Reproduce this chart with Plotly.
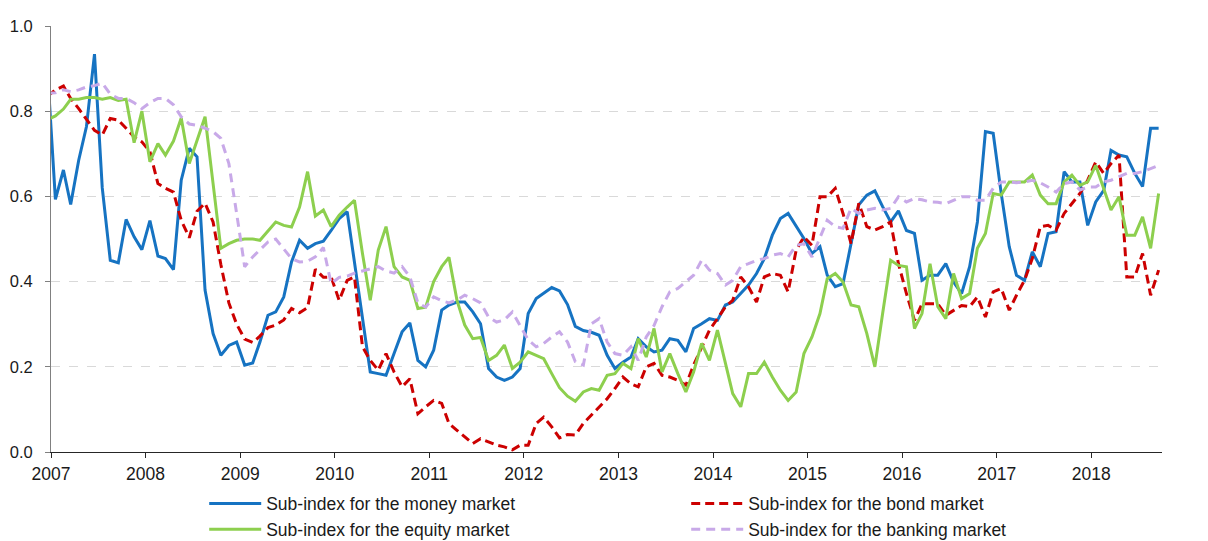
import pandas as pd
import plotly.graph_objects as go

# monthly observations, Dec 2006 .. Sep 2018 (plotted mid-month)
months = pd.date_range("2006-12-01", periods=142, freq="MS") + pd.Timedelta(days=17)

money_market = [
    0.90,
    0.593, 0.662, 0.581, 0.685, 0.764, 0.934, 0.62, 0.45, 0.444, 0.546, 0.505, 0.475,
    0.543, 0.46, 0.454, 0.428, 0.638, 0.713, 0.693, 0.38, 0.278, 0.227, 0.25, 0.258,
    0.204, 0.209, 0.258, 0.321, 0.329, 0.364, 0.446, 0.497, 0.478, 0.489, 0.495, 0.52,
    0.548, 0.564, 0.448, 0.31, 0.188, 0.184, 0.18, 0.231, 0.282, 0.303, 0.215, 0.2,
    0.239, 0.333, 0.345, 0.352, 0.352, 0.329, 0.301, 0.196, 0.176, 0.168, 0.176, 0.196,
    0.325, 0.36, 0.372, 0.386, 0.378, 0.346, 0.295, 0.285, 0.281, 0.274, 0.227, 0.196,
    0.211, 0.223, 0.266, 0.247, 0.235, 0.239, 0.266, 0.262, 0.235, 0.29, 0.301, 0.313,
    0.309, 0.345, 0.352, 0.372, 0.392, 0.419, 0.454, 0.509, 0.548, 0.56, 0.529, 0.501,
    0.466, 0.482, 0.415, 0.388, 0.395, 0.489, 0.58, 0.603, 0.613, 0.576, 0.54, 0.566,
    0.52, 0.513, 0.403, 0.415, 0.415, 0.442, 0.399, 0.372, 0.435, 0.54, 0.752, 0.748,
    0.607, 0.482, 0.415, 0.403, 0.47, 0.435, 0.513, 0.517, 0.658, 0.634, 0.634, 0.532,
    0.587, 0.614, 0.708, 0.697, 0.693, 0.654, 0.623, 0.76, 0.76,
]

bond_market = [
    0.835,
    0.85, 0.859, 0.83, 0.806, 0.78, 0.755, 0.744, 0.783, 0.779, 0.76, 0.74, 0.728,
    0.705, 0.63, 0.619, 0.61, 0.544, 0.503, 0.565, 0.584, 0.54, 0.44, 0.35, 0.30,
    0.265, 0.257, 0.272, 0.292, 0.298, 0.31, 0.337, 0.327, 0.339, 0.429, 0.41, 0.411,
    0.356, 0.403, 0.411, 0.247, 0.215, 0.192, 0.231, 0.188, 0.153, 0.172, 0.09, 0.106,
    0.121, 0.114, 0.067, 0.051, 0.035, 0.02, 0.031, 0.023, 0.016, 0.012, 0.005, 0.016,
    0.016, 0.067, 0.082, 0.059, 0.033, 0.041, 0.04, 0.067, 0.086, 0.106, 0.125, 0.149,
    0.176, 0.16, 0.153, 0.2, 0.208, 0.18, 0.176, 0.168, 0.157, 0.204, 0.247, 0.286,
    0.313, 0.341, 0.356, 0.411, 0.388, 0.352, 0.411, 0.419, 0.415, 0.376, 0.474, 0.505,
    0.485, 0.599, 0.599, 0.619, 0.56, 0.489, 0.584, 0.529, 0.521, 0.529, 0.54, 0.442,
    0.372, 0.309, 0.348, 0.348, 0.348, 0.321, 0.333, 0.344, 0.341, 0.364, 0.317, 0.376,
    0.384, 0.333, 0.368, 0.403, 0.454, 0.529, 0.532, 0.521, 0.56, 0.584, 0.607, 0.638,
    0.681, 0.654, 0.677, 0.697, 0.411, 0.411, 0.466, 0.368, 0.427,
]

equity_market = [
    0.78,
    0.789, 0.805, 0.828, 0.828, 0.832, 0.832, 0.828, 0.832, 0.825, 0.828, 0.726, 0.80,
    0.681, 0.724, 0.697, 0.73, 0.784, 0.677, 0.732, 0.787, 0.63, 0.478, 0.489, 0.497,
    0.50, 0.50, 0.497, 0.52, 0.54, 0.532, 0.528, 0.575, 0.658, 0.554, 0.568, 0.529,
    0.556, 0.575, 0.591, 0.466, 0.356, 0.474, 0.529, 0.435, 0.411, 0.403, 0.337, 0.34,
    0.40, 0.435, 0.457, 0.356, 0.298, 0.266, 0.269, 0.215, 0.227, 0.251, 0.196, 0.211,
    0.235, 0.227, 0.219, 0.184, 0.151, 0.131, 0.119, 0.141, 0.149, 0.145, 0.18, 0.184,
    0.208, 0.196, 0.266, 0.223, 0.29, 0.188, 0.231, 0.184, 0.141, 0.188, 0.255, 0.215,
    0.286, 0.208, 0.137, 0.106, 0.184, 0.184, 0.211, 0.176, 0.145, 0.121, 0.141, 0.231,
    0.27, 0.325, 0.407, 0.419, 0.399, 0.345, 0.341, 0.278, 0.20, 0.325, 0.45, 0.438,
    0.435, 0.29, 0.325, 0.442, 0.341, 0.313, 0.419, 0.36, 0.372, 0.478, 0.513, 0.607,
    0.603, 0.634, 0.634, 0.634, 0.65, 0.603, 0.583, 0.583, 0.634, 0.65, 0.626, 0.634,
    0.673, 0.619, 0.568, 0.599, 0.509, 0.509, 0.552, 0.478, 0.607,
]

banking_market = [
    0.842,
    0.843, 0.85, 0.846, 0.85, 0.857, 0.86, 0.866, 0.84, 0.83, 0.83, 0.82, 0.806,
    0.82, 0.83, 0.83, 0.815, 0.787, 0.77, 0.767, 0.76, 0.752, 0.736, 0.677, 0.56,
    0.435, 0.458, 0.474, 0.493, 0.50, 0.478, 0.454, 0.446, 0.448, 0.458, 0.48, 0.395,
    0.41, 0.413, 0.42, 0.425, 0.43, 0.435, 0.425, 0.42, 0.435, 0.411, 0.35, 0.34,
    0.364, 0.355, 0.35, 0.357, 0.368, 0.36, 0.35, 0.317, 0.305, 0.31, 0.329, 0.298,
    0.263, 0.247, 0.255, 0.27, 0.282, 0.258, 0.212, 0.204, 0.301, 0.313, 0.258, 0.231,
    0.227, 0.247, 0.215, 0.27, 0.297, 0.341, 0.376, 0.384, 0.399, 0.415, 0.45, 0.427,
    0.419, 0.392, 0.403, 0.435, 0.442, 0.45, 0.454, 0.462, 0.466, 0.458, 0.485, 0.489,
    0.458, 0.505, 0.544, 0.529, 0.525, 0.572, 0.56, 0.568, 0.572, 0.568, 0.572, 0.599,
    0.587, 0.595, 0.592, 0.587, 0.586, 0.583, 0.591, 0.599, 0.599, 0.591, 0.591, 0.619,
    0.634, 0.634, 0.632, 0.634, 0.638, 0.632, 0.622, 0.61, 0.63, 0.634, 0.615, 0.622,
    0.622, 0.634, 0.638, 0.646, 0.654, 0.654, 0.658, 0.665, 0.673,
]

year_ticks = [str(y) for y in range(2007, 2019)]

fig = go.Figure()

fig.add_trace(go.Scatter(x=months, y=money_market, mode="lines",
                         name="Sub-index for the money market",
                         line=dict(color="#1673c2", width=3)))
fig.add_trace(go.Scatter(x=months, y=bond_market, mode="lines",
                         name="Sub-index for the bond market",
                         line=dict(color="#cc0000", width=3, dash="9px,5px")))
fig.add_trace(go.Scatter(x=months, y=equity_market, mode="lines",
                         name="Sub-index for the equity market",
                         line=dict(color="#8dcf4e", width=3)))
fig.add_trace(go.Scatter(x=months, y=banking_market, mode="lines",
                         name="Sub-index for the banking market",
                         line=dict(color="#c8a9e8", width=3, dash="9px,6px")))

# the page body adds an 8px offset, so the figure is 8px smaller than the window
fig.update_layout(
    width=1200, height=533,
    margin=dict(l=43, r=46, t=18, b=89),
    paper_bgcolor="white", plot_bgcolor="white",
    font=dict(family="Arial, Liberation Sans, sans-serif", size=16.5, color="#1a1a1a"),
    showlegend=True,
    legend=dict(orientation="h", xref="container", yref="container",
                x=0.1635, xanchor="left", y=0.104, yanchor="top",
                entrywidth=415, entrywidthmode="pixels", tracegroupgap=0,
                font=dict(size=17.5), itemwidth=52, bgcolor="rgba(0,0,0,0)"),
)

fig.update_xaxes(
    type="date", range=["2007-01-01", "2018-10-01"], automargin=False,
    tickvals=[f"{y}-01-01" for y in year_ticks], ticktext=year_ticks,
    tickfont=dict(size=17.5), ticklabelstandoff=1,
    ticks="outside", ticklen=5, tickcolor="#262626",
    showline=True, linecolor="#262626", linewidth=1,
    showgrid=False, zeroline=False,
)

fig.update_yaxes(
    range=[0, 1.0], dtick=0.2, tickformat=".1f", ticklabelstandoff=9, automargin=False,
    ticks="outside", ticklen=5, tickcolor="#808080",
    showline=True, linecolor="#808080", linewidth=1,
    showgrid=True, gridcolor="#d9d9d9", griddash="dash", gridwidth=1,
    zeroline=False,
)

fig.write_html("out.html")
